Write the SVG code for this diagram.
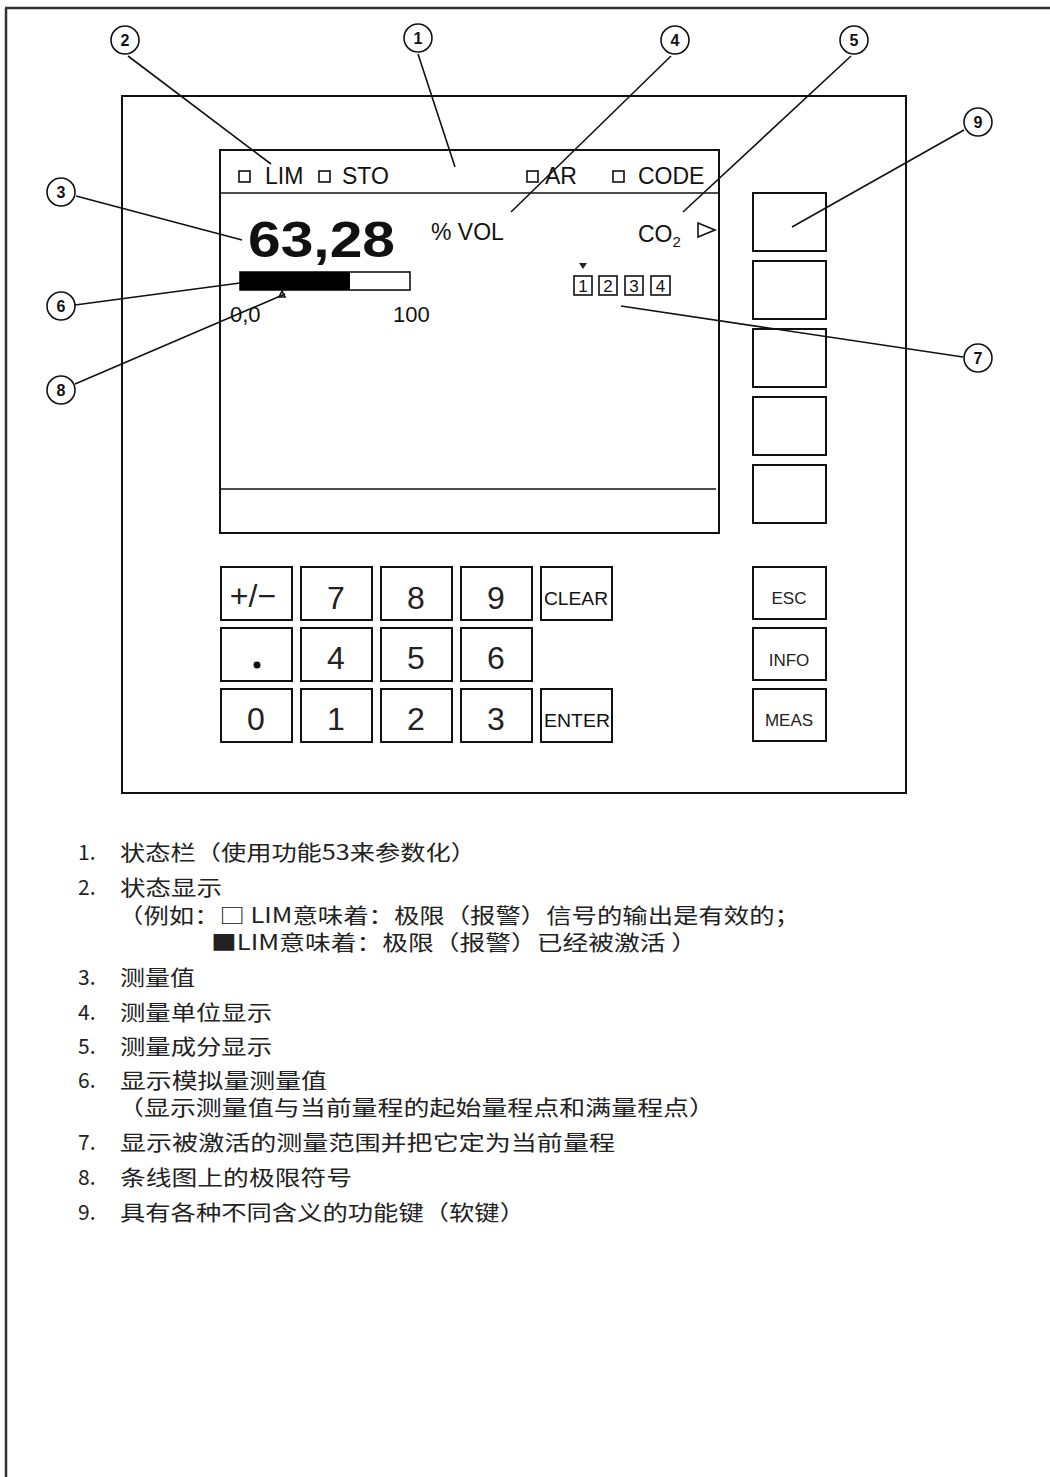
<svg xmlns="http://www.w3.org/2000/svg" width="1050" height="1477" viewBox="0 0 1050 1477">
<style>
.ln{stroke:#111;stroke-width:1.6;fill:none}
.box{stroke:#111;stroke-width:2;fill:#fff}
.cc{stroke:#111;stroke-width:1.6;fill:#fff}
.cn{font-family:"Liberation Sans",Arial,sans-serif;font-weight:bold;font-size:16px;fill:#111;text-anchor:middle}
.t{font-family:"Liberation Sans",Arial,sans-serif;fill:#111}
.key{font-family:"Liberation Sans",Arial,sans-serif;font-size:32px;fill:#222;text-anchor:middle}
.sk{font-family:"Liberation Sans",Arial,sans-serif;font-size:17px;fill:#222;text-anchor:middle}
.cj{font-family:"Noto Sans CJK SC","Liberation Sans",sans-serif;font-size:21px;fill:#222}
</style>
<rect width="1050" height="1477" fill="#fff"/>
<g id="frame">
<line x1="5" y1="8" x2="1050" y2="8" stroke="#333" stroke-width="2.5"/>
<line x1="6" y1="8" x2="6" y2="1477" stroke="#333" stroke-width="2.5"/>
</g>
<g id="device"><rect x="122" y="96" width="784" height="697" class="box"/></g>
<g id="screen">
<rect x="220" y="150" width="499" height="383" class="box"/>
<line x1="220" y1="193" x2="719" y2="193" class="ln" stroke-width="2"/>
<line x1="219" y1="489" x2="716" y2="489" class="ln" stroke-width="2"/>
</g>
<g id="statusbar">
<rect x="239" y="171" width="11" height="11" class="ln" stroke-width="1.3"/>
<text x="265" y="184" class="t" font-size="23">LIM</text>
<rect x="319" y="171" width="11" height="11" class="ln" stroke-width="1.3"/>
<text x="342" y="184" class="t" font-size="23">STO</text>
<rect x="527" y="171" width="11" height="11" class="ln" stroke-width="1.3"/>
<text x="545" y="184" class="t" font-size="23">AR</text>
<rect x="613" y="171" width="11" height="11" class="ln" stroke-width="1.3"/>
<text x="638" y="184" class="t" font-size="23">CODE</text>
</g>
<g id="value">
<text x="248" y="257" class="t" font-size="50" font-weight="bold" textLength="147" lengthAdjust="spacingAndGlyphs">63,28</text>
<text x="431" y="240" class="t" font-size="23">% VOL</text>
<text x="638" y="242" class="t" font-size="23">CO<tspan font-size="15" dy="5">2</tspan></text>
<polygon points="698,223 715,230 698,237" class="ln" stroke-width="1.5"/>
</g>
<g id="bargraph">
<rect x="240" y="272" width="170" height="18" class="ln" stroke-width="1.5" fill="#fff"/>
<rect x="240" y="272" width="110" height="18" fill="#000"/>
<polygon points="279,297 282,291 285,297" class="ln" stroke-width="1.2"/>
<text x="230" y="322" class="t" font-size="22" fill="#555">0,0</text>
<text x="393" y="322" class="t" font-size="22">100</text>
</g>
<g id="ranges">
<polygon points="579,263 587,263 583,269" fill="#222"/>
<rect x="574" y="276" width="18" height="19" class="ln" stroke-width="1.3"/>
<rect x="599" y="276" width="18" height="19" class="ln" stroke-width="1.3"/>
<rect x="625" y="276" width="18" height="19" class="ln" stroke-width="1.3"/>
<rect x="651" y="276" width="19" height="19" class="ln" stroke-width="1.3"/>
<text x="583" y="292" class="t" font-size="17" text-anchor="middle">1</text>
<text x="608" y="292" class="t" font-size="17" text-anchor="middle">2</text>
<text x="634" y="292" class="t" font-size="17" text-anchor="middle">3</text>
<text x="660.5" y="292" class="t" font-size="17" text-anchor="middle">4</text>
</g>
<g id="softkeys">
<rect x="753" y="193" width="73" height="58" class="box"/>
<rect x="753" y="261" width="73" height="58" class="box"/>
<rect x="753" y="329" width="73" height="58" class="box"/>
<rect x="753" y="397" width="73" height="58" class="box"/>
<rect x="753" y="465" width="73" height="58" class="box"/>
</g>
<g id="keypad">
<rect x="221" y="567" width="71" height="53" class="box"/>
<rect x="301" y="567" width="71" height="53" class="box"/>
<rect x="381" y="567" width="71" height="53" class="box"/>
<rect x="461" y="567" width="71" height="53" class="box"/>
<rect x="541" y="567" width="71" height="53" class="box"/>
<rect x="221" y="628" width="71" height="53" class="box"/>
<rect x="301" y="628" width="71" height="53" class="box"/>
<rect x="381" y="628" width="71" height="53" class="box"/>
<rect x="461" y="628" width="71" height="53" class="box"/>
<rect x="221" y="689" width="71" height="53" class="box"/>
<rect x="301" y="689" width="71" height="53" class="box"/>
<rect x="381" y="689" width="71" height="53" class="box"/>
<rect x="461" y="689" width="71" height="53" class="box"/>
<rect x="541" y="689" width="71" height="53" class="box"/>
<text x="253" y="607" class="key" font-size="30">+/−</text>
<text x="336" y="609" class="key">7</text>
<text x="416" y="609" class="key">8</text>
<text x="496" y="609" class="key">9</text>
<text x="544" y="605" class="t" font-size="18" fill="#222" textLength="64" lengthAdjust="spacingAndGlyphs">CLEAR</text>
<circle cx="257" cy="665" r="3.5" fill="#111"/>
<text x="336" y="669" class="key">4</text>
<text x="416" y="669" class="key">5</text>
<text x="496" y="669" class="key">6</text>
<text x="256" y="730" class="key">0</text>
<text x="336" y="730" class="key">1</text>
<text x="416" y="730" class="key">2</text>
<text x="496" y="730" class="key">3</text>
<text x="544" y="727" class="t" font-size="18" fill="#222" textLength="66" lengthAdjust="spacingAndGlyphs">ENTER</text>
</g>
<g id="funckeys">
<rect x="753" y="567" width="73" height="52" class="box"/>
<rect x="753" y="628" width="73" height="52" class="box"/>
<rect x="753" y="689" width="73" height="52" class="box"/>
<text x="789" y="604" class="sk">ESC</text>
<text x="789" y="666" class="sk">INFO</text>
<text x="789" y="726" class="sk">MEAS</text>
</g>
<g id="connectors">
<line x1="128" y1="56" x2="271" y2="164" class="ln"/>
<line x1="418" y1="54" x2="455" y2="167" class="ln"/>
<line x1="671" y1="56" x2="511" y2="212" class="ln"/>
<line x1="851" y1="56" x2="683" y2="212" class="ln"/>
<line x1="964" y1="130" x2="792" y2="227" class="ln"/>
<line x1="76" y1="196" x2="242" y2="240" class="ln"/>
<line x1="75" y1="305" x2="240" y2="283" class="ln"/>
<line x1="75" y1="384" x2="285" y2="294" class="ln"/>
<line x1="963" y1="357" x2="621" y2="306" class="ln"/>
</g>
<g id="c1"><circle cx="418" cy="38" r="14" class="cc"/><text x="418" y="44" class="cn">1</text></g>
<g id="c2"><circle cx="125" cy="40" r="14" class="cc"/><text x="125" y="46" class="cn">2</text></g>
<g id="c3"><circle cx="61" cy="192" r="14" class="cc"/><text x="61" y="198" class="cn">3</text></g>
<g id="c4"><circle cx="675" cy="40" r="14" class="cc"/><text x="675" y="46" class="cn">4</text></g>
<g id="c5"><circle cx="854" cy="40" r="14" class="cc"/><text x="854" y="46" class="cn">5</text></g>
<g id="c6"><circle cx="61" cy="306" r="14" class="cc"/><text x="61" y="312" class="cn">6</text></g>
<g id="c7"><circle cx="978" cy="358" r="14" class="cc"/><text x="978" y="364" class="cn">7</text></g>
<g id="c8"><circle cx="61" cy="390" r="14" class="cc"/><text x="61" y="396" class="cn">8</text></g>
<g id="c9"><circle cx="978" cy="122" r="14" class="cc"/><text x="978" y="128" class="cn">9</text></g>
<g id="legend">
<text x="78" y="860" class="cj">1.</text><text x="120" y="860" class="cj" textLength="356" lengthAdjust="spacingAndGlyphs">状态栏（使用功能53来参数化）</text>
<text x="78" y="895" class="cj">2.</text><text x="120" y="895" class="cj" textLength="102" lengthAdjust="spacingAndGlyphs">状态显示</text>
<text x="118" y="923" class="cj" textLength="682" lengthAdjust="spacingAndGlyphs">（例如：□ LIM意味着：极限（报警）信号的输出是有效的；</text>
<text x="211" y="950" class="cj" textLength="486" lengthAdjust="spacingAndGlyphs">■LIM意味着：极限（报警）已经被激活 ）</text>
<text x="78" y="985" class="cj">3.</text><text x="120" y="985" class="cj" textLength="75" lengthAdjust="spacingAndGlyphs">测量值</text>
<text x="78" y="1020" class="cj">4.</text><text x="120" y="1020" class="cj" textLength="152" lengthAdjust="spacingAndGlyphs">测量单位显示</text>
<text x="78" y="1054" class="cj">5.</text><text x="120" y="1054" class="cj" textLength="152" lengthAdjust="spacingAndGlyphs">测量成分显示</text>
<text x="78" y="1088" class="cj">6.</text><text x="120" y="1088" class="cj" textLength="207" lengthAdjust="spacingAndGlyphs">显示模拟量测量值</text>
<text x="118" y="1115" class="cj" textLength="597" lengthAdjust="spacingAndGlyphs">（显示测量值与当前量程的起始量程点和满量程点）</text>
<text x="78" y="1150" class="cj">7.</text><text x="120" y="1150" class="cj" textLength="495" lengthAdjust="spacingAndGlyphs">显示被激活的测量范围并把它定为当前量程</text>
<text x="78" y="1185" class="cj">8.</text><text x="120" y="1185" class="cj" textLength="232" lengthAdjust="spacingAndGlyphs">条线图上的极限符号</text>
<text x="78" y="1220" class="cj">9.</text><text x="120" y="1220" class="cj" textLength="405" lengthAdjust="spacingAndGlyphs">具有各种不同含义的功能键（软键）</text>
</g>
</svg>
